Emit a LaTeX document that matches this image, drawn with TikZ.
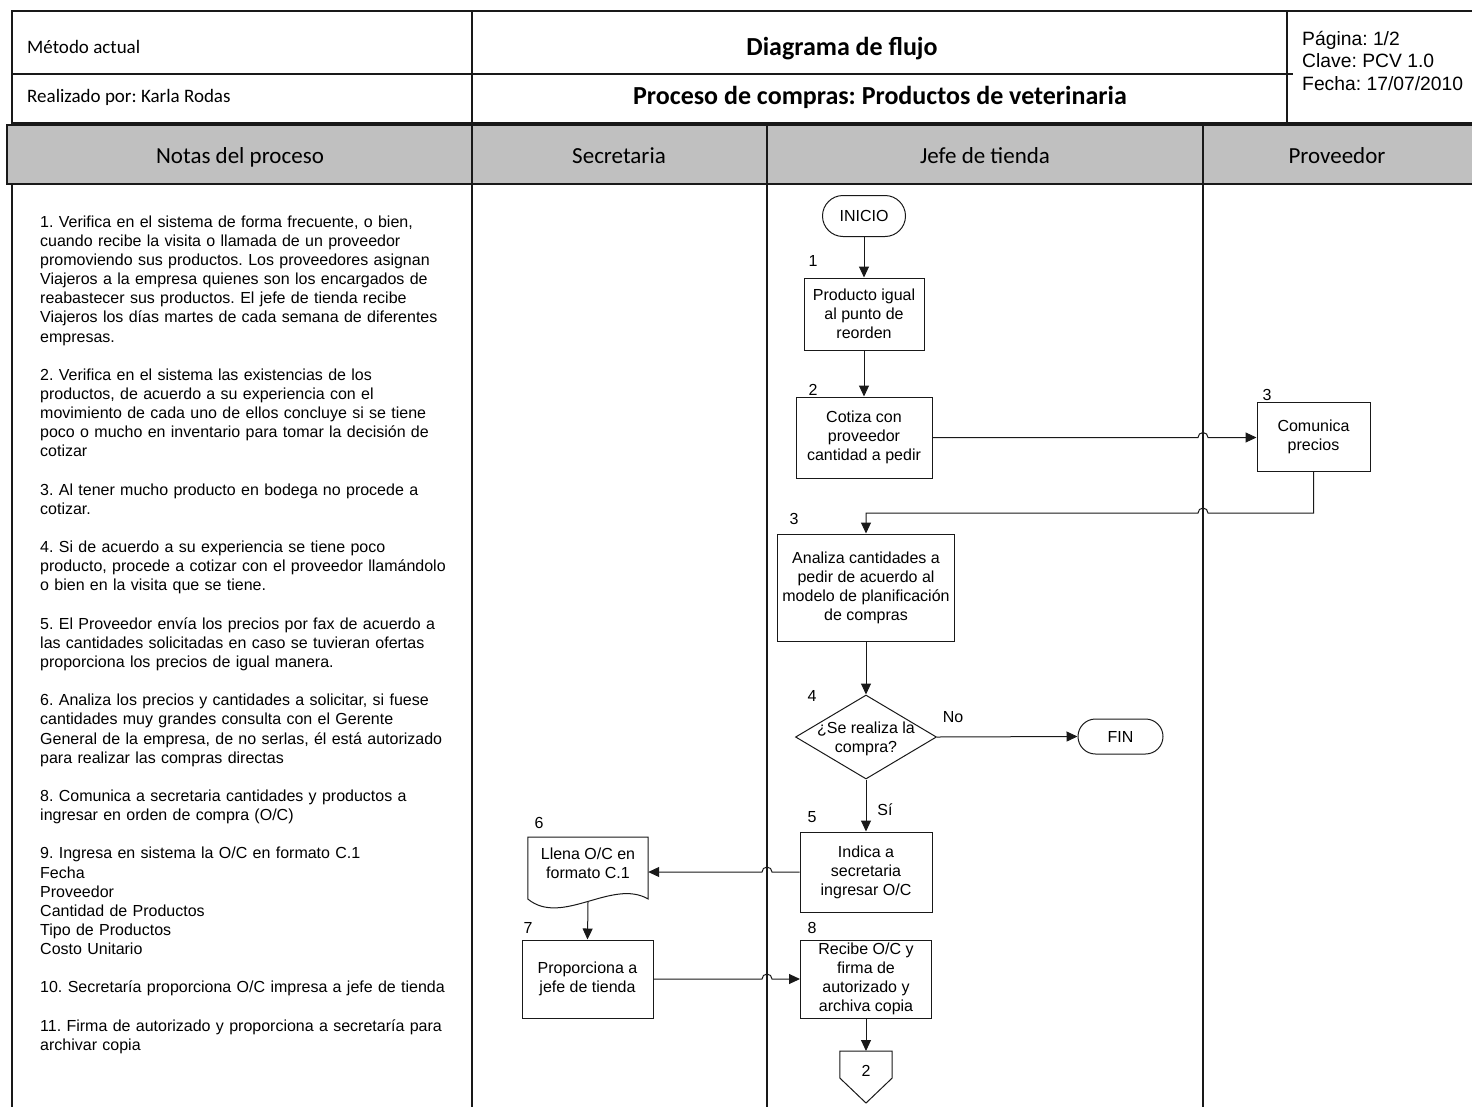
\documentclass[tikz,border=0pt]{standalone}
\usepackage{fontspec}
\setmainfont{Liberation Sans}
\newfontfamily\calib{Carlito}
\usetikzlibrary{shapes.geometric,arrows.meta,calc}
\frenchspacing

\definecolor{ink}{RGB}{25,25,25}
\definecolor{band}{RGB}{192,192,192}

\begin{document}
\begin{tikzpicture}[x=1pt,y=-1pt,
  frame/.style={draw=ink, line width=1.5pt},
  lane/.style={draw=ink, line width=1.2pt},
  txt/.style={font=\fontsize{16}{19}\selectfont, inner sep=0pt, text=black},
  box/.style={txt, draw=ink, line width=1pt, align=center},
  term/.style={box},
  hdr/.style={font=\calib\fontsize{19}{22}\selectfont, inner sep=0pt, anchor=west},
  title/.style={font=\calib\bfseries\fontsize{26}{30}\selectfont, inner sep=0pt},
  bandtxt/.style={font=\calib\fontsize{23}{26}\selectfont, inner sep=0pt, anchor=base},
  arr/.style={draw=ink, line width=1pt, -{Triangle[length=11pt,width=10pt]}},
  num/.style={txt},
]
\useasboundingbox (0,0) rectangle (1472,1106);

% ---- title block ----
\draw[frame] (1480,11) -- (12,11) -- (12,123) -- (1480,123);
\draw[frame] (472,11) -- (472,123);
\draw[frame] (1287,11) -- (1287,123);
\draw[draw=ink, line width=1.1pt] (12,74) -- (1293,74);

\node[hdr] (metodo) at (27,47) {Método actual};
\node[hdr] (autor) at (27,97) {Realizado por: Karla Rodas};
\node[title] (titulo) at (842,49) {Diagrama de flujo};
\node[title] (proceso) at (880,97) {Proceso de compras: Productos de veterinaria};
\node[font=\fontsize{19.3}{22.5}\selectfont, inner sep=0pt, align=left, anchor=west] (meta) at (1302,60.5)
  {Página: 1/2\\Clave: PCV 1.0\\Fecha: 17/07/2010};

% ---- lane headers ----
\filldraw[fill=band, draw=ink, line width=1.5pt] (7,125) rectangle (1480,184);
\coordinate (L1) at (472,0);
\coordinate (L2) at (767,0);
\coordinate (L3) at (1203,0);
\draw[lane] (472,125) -- (472,1110);
\draw[lane] (767,125) -- (767,1110);
\draw[lane] (1203,125) -- (1203,1110);
\draw[lane] (12,184) -- (12,1110);

\node[bandtxt] (hnotas) at (240,163.5) {Notas del proceso};
\node[bandtxt] (hsec) at (619,163.5) {Secretaria};
\node[bandtxt] (hjefe) at (985,163.5) {Jefe de tienda};
\node[bandtxt] (hprov) at (1337,163.5) {Proveedor};

% ---- process notes ----
\node[inner sep=0pt, anchor=north west, text width=425pt, align=left,
      font=\fontsize{16}{19.14}\selectfont] (notes) at (40,215.5) {%
1. Verifica en el sistema de forma frecuente, o bien,\\
cuando recibe la visita o llamada de un proveedor\\
promoviendo sus productos. Los proveedores asignan\\
Viajeros a la empresa quienes son los encargados de\\
reabastecer sus productos. El jefe de tienda recibe\\
Viajeros los días martes de cada semana de diferentes\\
empresas.\\[19.14pt]
2. Verifica en el sistema las existencias de los\\
productos, de acuerdo a su experiencia con el\\
movimiento de cada uno de ellos concluye si se tiene\\
poco o mucho en inventario para tomar la decisión de\\
cotizar\\[19.14pt]
3. Al tener mucho producto en bodega no procede a\\
cotizar.\\[19.14pt]
4. Si de acuerdo a su experiencia se tiene poco\\
producto, procede a cotizar con el proveedor llamándolo\\
o bien en la visita que se tiene.\\[19.14pt]
5. El Proveedor envía los precios por fax de acuerdo a\\
las cantidades solicitadas en caso se tuvieran ofertas\\
proporciona los precios de igual manera.\\[19.14pt]
6. Analiza los precios y cantidades a solicitar, si fuese\\
cantidades muy grandes consulta con el Gerente\\
General de la empresa, de no serlas, él está autorizado\\
para realizar las compras directas\\[19.14pt]
8. Comunica a secretaria cantidades y productos a\\
ingresar en orden de compra (O/C)\\[19.14pt]
9. Ingresa en sistema la O/C en formato C.1\\
Fecha\\
Proveedor\\
Cantidad de Productos\\
Tipo de Productos\\
Costo Unitario\\[19.14pt]
10. Secretaría proporciona O/C impresa a jefe de tienda\\[19.14pt]
11. Firma de autorizado y proporciona a secretaría para\\
archivar copia};

% ---- flow: jefe de tienda / proveedor / secretaria ----
\node[term, minimum width=83pt, minimum height=41pt, rounded corners=20.5pt] (inicio) at (864,216) {INICIO};
\node[box, minimum width=120pt, minimum height=72pt] (n1) at (864,314) {Producto igual\\al punto de\\reorden};
\node[box, minimum width=136pt, minimum height=81pt] (n2) at (864,437.5) {Cotiza con\\proveedor\\cantidad a pedir};
\node[box, minimum width=113pt, minimum height=69pt] (n3p) at (1313.5,436.5) {Comunica\\precios};
\node[box, minimum width=177pt, minimum height=107pt] (n4) at (866,587.5) {Analiza cantidades a\\pedir de acuerdo al\\modelo de planificación\\de compras};
\node[diamond, draw=ink, line width=1pt, inner sep=0pt, aspect=1.68,
      minimum width=141pt, minimum height=84pt, txt] (dec) at (866,737)
  {\smash{\makebox[0pt]{\raisebox{-7pt}{\begin{tabular}{@{}c@{}}¿Se realiza la\\compra?\end{tabular}}}}};
\node[term, minimum width=85pt, minimum height=35pt, rounded corners=17.5pt] (fin) at (1120.5,736.5) {FIN};
\node[box, minimum width=132pt, minimum height=80pt] (n5) at (866,872) {Indica a\\secretaria\\ingresar O/C};
\node[txt, align=center, minimum width=120pt, minimum height=52pt, anchor=north] (n6) at (588,837) {Llena O/C en\\formato C.1};
\draw[draw=ink, line width=1pt] (n6.north west) -- (n6.north east) -- ($(n6.north east)+(0,62)$)
  .. controls ($(n6.north east)+(-36,41)$) and ($(n6.north west)+(34,90)$) .. ($(n6.north west)+(0,62)$) -- cycle;
\node[box, minimum width=131pt, minimum height=78pt] (n7) at (587.5,979) {Proporciona a\\jefe de tienda};
\node[box, minimum width=131pt, minimum height=78pt] (n8) at (866,979) {Recibe O/C y\\firma de\\autorizado y\\archiva copia};
\node[txt, minimum width=52pt, minimum height=40pt, anchor=north] (n9) at (866,1051) {2};
\draw[draw=ink, line width=1pt] (n9.north west) -- (n9.north east) -- ($(n9.north east)+(0,27)$)
  -- ($(n9.north)+(0,52)$) -- ($(n9.north west)+(0,27)$) -- cycle;

% step numbers
\node[num] (s1) at (813,261) {1};
\node[num] (s2) at (813,390) {2};
\node[num] (s3p) at (1267,395) {3};
\node[num] (s3) at (794,519) {3};
\node[num] (s4) at (812,696) {4};
\node[num] (s5) at (812,817) {5};
\node[num] (s6) at (539,823) {6};
\node[num] (s7) at (528,928) {7};
\node[num] (s8) at (812,928) {8};

% ---- connectors ----
\coordinate (R) at (0,513);
\draw[arr] (inicio.south) -- (n1.north);
\draw[arr] (n1.south) -- (n2.north);
\draw[arr] (n2.east) -- ($(n2.east -| L3)+(-5,0)$) arc[start angle=180, end angle=0, radius=5pt]
  -- (n2.east -| n3p.west);
\draw[arr] (n3p.south) -- (n3p.south |- R) -- ($(L3 |- R)+(5,0)$) arc[start angle=0, end angle=180, radius=5pt]
  -- (n4.north |- R) -- (n4.north);
\draw[arr] (n4.south) -- (dec.north);
\draw[arr] (dec.east) -- (fin.west);
\node[txt] (lno) at (953,717) {No};
\draw[arr] (dec.south) -- (n5.north);
\node[txt] (lsi) at (885,810) {Sí};
\draw[arr] (n5.west) -- ($(n5.west -| L2)+(5,0)$) arc[start angle=0, end angle=180, radius=5pt]
  -- (n5.west -| n6.east);
\draw[arr] ($(n6.north)+(0,65)$) -- (n7.north);
\draw[arr] (n7.east) -- ($(n7.east -| L2)+(-5,0)$) arc[start angle=180, end angle=0, radius=5pt]
  -- (n8.west);
\draw[arr] (n8.south) -- (n9.north);
\end{tikzpicture}
\end{document}
